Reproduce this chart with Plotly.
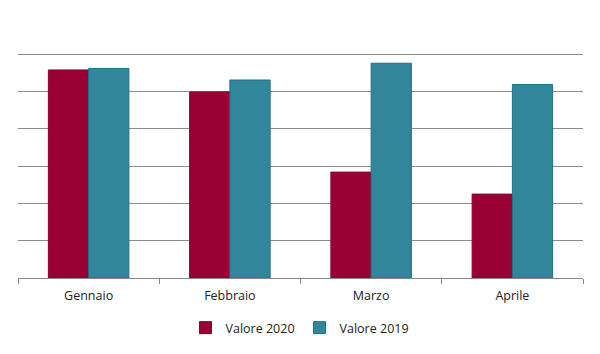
import plotly.graph_objects as go

categories = ["Gennaio", "Febbraio", "Marzo", "Aprile"]
valore_2020 = [5.58, 4.99, 2.84, 2.25]
valore_2019 = [5.62, 5.31, 5.76, 5.19]

fig = go.Figure()
fig.add_trace(go.Bar(x=categories, y=valore_2020, name="Valore 2020",
                     marker=dict(color="#990033", line=dict(color="#8a002d", width=1))))
fig.add_trace(go.Bar(x=categories, y=valore_2019, name="Valore 2019",
                     marker=dict(color="#31869B", line=dict(color="#1f7089", width=1))))

fig.update_layout(
    width=600, height=354,
    margin=dict(l=18, r=17, t=17, b=76, autoexpand=False),
    paper_bgcolor="white", plot_bgcolor="white",
    barmode="group", bargap=0.43, bargroupgap=0,
    font=dict(family="Open Sans, Liberation Sans, sans-serif", size=12.5, color="#222"),
    showlegend=True,
    legend=dict(orientation="h", x=0.5, xanchor="center", xref="container",
                y=1 - 328 / 354, yanchor="middle", yref="container",
                font=dict(size=12.5), itemwidth=30, traceorder="normal"),
)
fig.update_xaxes(showline=True, linecolor="#888", linewidth=1, ticks="outside",
                 tickson="boundaries", ticklen=5, tickcolor="#888", showgrid=False,
                 ticklabelstandoff=6)
fig.update_yaxes(range=[0, 7], dtick=1, showgrid=True, gridcolor="#8c8c8c", gridwidth=1,
                 showticklabels=False, zeroline=False, showline=False)

fig.write_html("out.html")
